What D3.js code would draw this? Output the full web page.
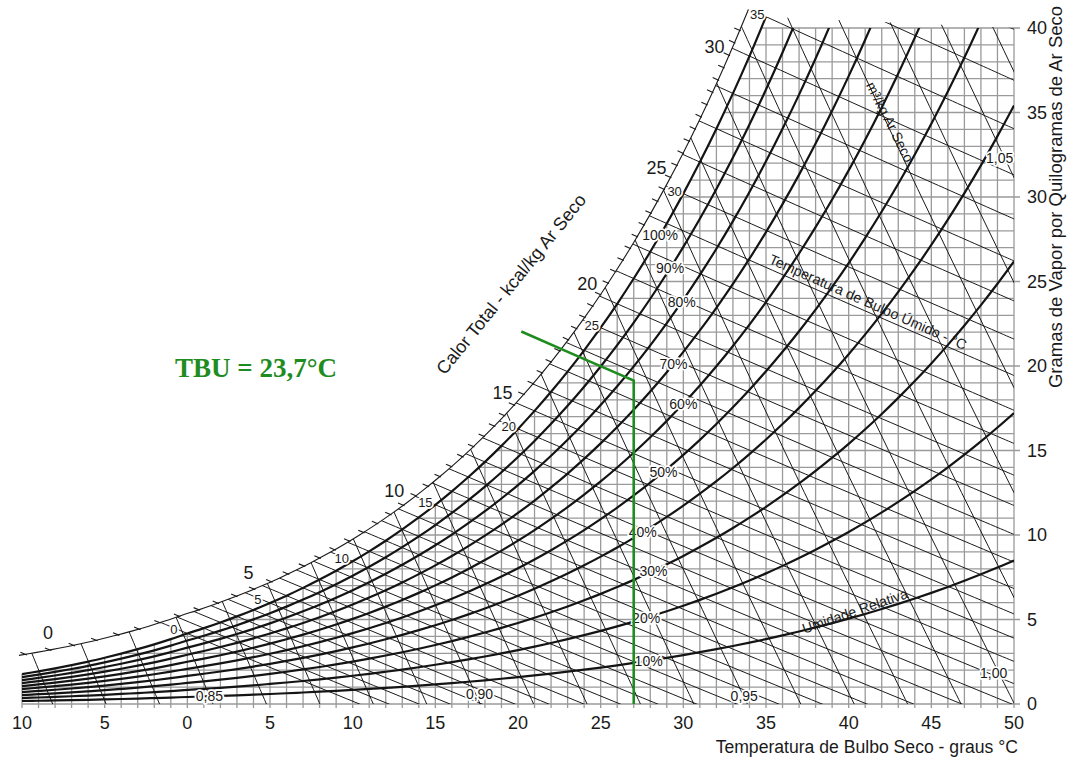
<!DOCTYPE html>
<html><head><meta charset="utf-8">
<script src="https://cdn.jsdelivr.net/npm/d3@7/dist/d3.min.js"></script>
<style>
html,body{margin:0;padding:0;background:#fff;}
svg{display:block;}
text{font-family:"Liberation Sans",Arial,sans-serif;fill:#1a1a1a;}
</style></head><body>
<svg id="chart" width="1071" height="757"></svg>
<script>
// ---------------- data ----------------
// saturation vapour pressure (kPa) by dry-bulb temperature (ice below 0 °C)
const satTemps = [-10,-9,-8,-7,-6,-5,-4,-3,-2,-1,0,1,2,3,4,5,6,7,8,9,10,11,12,13,14,15,16,17,18,19,20,21,22,23,24,25,26,27,28,29,30,31,32,33,34,35,36,37,38,39,40,41,42,43,44,45,46,47,48,49,50];
const satPressure = [0.2599,0.2842,0.3102,0.3381,0.3681,0.4017,0.4376,0.4760,0.5173,0.5626,0.6112,0.6571,0.7060,0.7581,0.8135,0.8725,0.9353,1.0020,1.0729,1.1481,1.2280,1.3128,1.4026,1.4979,1.5987,1.7055,1.8185,1.9380,2.0643,2.1978,2.3388,2.4877,2.6448,2.8104,2.9851,3.1692,3.3631,3.5673,3.7822,4.0083,4.2460,4.4959,4.7585,5.0343,5.3239,5.6278,5.9466,6.2810,6.6315,6.9987,7.3835,7.7863,8.2080,8.6492,9.1107,9.5932,10.0976,10.6246,11.1751,11.7500,12.3499];
const rhLevels = [0.1,0.2,0.3,0.4,0.5,0.6,0.7,0.8,0.9];
const rhLabels = ["10%","20%","30%","40%","50%","60%","70%","80%","90%","100%"];
const rhLabelTemps = [27.9,27.75,28.2,27.55,28.8,30.0,29.4,29.9,29.2,28.6];
const wetBulbTemps = [0,1,2,3,4,5,6,7,8,9,10,11,12,13,14,15,16,17,18,19,20,21,22,23,24,25,26,27,28,29,30,31,32,33,34,35,36,37];
const wetBulbLabelTemps = [0,5,10,15,20,25,30,35];
const volumeLevels = [0.82,0.83,0.84,0.85,0.86,0.87,0.88,0.89,0.90,0.91,0.92,0.93,0.94,0.95,0.96,0.97,0.98,0.99,1.00,1.01,1.02,1.03,1.04,1.05,1.06];
const volumeLabelLevels = [0.85,0.90,0.95,1.00,1.05];
const volumeLabels = ["0,85","0,90","0,95","1,00","1,05"];
const volumeLabelW = [0.5,0.6,0.5,1.85,32.3];
const enthalpyLabelValues = [0,5,10,15,20,25,30];
const xTickValues = [-10,-5,0,5,10,15,20,25,30,35,40,45,50];
const xTickLabels = ["10","5","0","5","10","15","20","25","30","35","40","45","50"];
const yTickValues = [0,5,10,15,20,25,30,35,40];
const tbuValue = 23.7, tbsValue = 27, tbuLineStartT = 20.2;
const baroKPa = 91.7, volumeBaroKPa = 92.77, seaLevelKPa = 101.325;
const enthalpyScaleShift = -0.65; // °C offset of the printed enthalpy scale

// ---------------- psychrometric helpers ----------------
function psAt(T){
  let i = Math.floor(T - satTemps[0]);
  i = Math.max(0, Math.min(satTemps.length - 2, i));
  const f = (T - satTemps[i]) / (satTemps[i+1] - satTemps[i]);
  return Math.exp(Math.log(satPressure[i])*(1-f) + Math.log(satPressure[i+1])*f);
}
const wRH = (T, phi, P=baroKPa) => 622*phi*psAt(T)/(P - phi*psAt(T));
const wSat = (T) => wRH(T, 1);
const wWB = (T, t) => ((2501 - 2.326*t)*wSat(t) - 1006*(T - t)) / (2501 + 1.86*T - 4.186*t);
const hSeaKcal = (t) => (1.006*t + wRH(t,1,seaLevelKPa)/1000*(2501 + 1.86*t)) / 4.1868;
const volT = (v, W) => v*volumeBaroKPa/(0.287055*(1 + 1.6078*W/1000)) - 273.15;
function solve(f, target, lo, hi){
  for (let k=0;k<60;k++){ const m=(lo+hi)/2; if (f(m) < target) lo=m; else hi=m; }
  return (lo+hi)/2;
}

// ---------------- scales ----------------
const x = d3.scaleLinear().domain([-10,50]).range([22,1014]);
const y = d3.scaleLinear().domain([0,40]).range([704,28]);
const svg = d3.select('#chart');
const lineC = d3.line().curve(d3.curveCatmullRom.alpha(0.5));
const lineL = d3.line();
const OFF = 19;

const satPx = t => [x(t), y(wSat(t))];
function normalAt(t){
  const a = satPx(t-0.2), b = satPx(t+0.2);
  const tx=b[0]-a[0], ty=b[1]-a[1], L=Math.hypot(tx,ty);
  return [ty/L, -tx/L];
}
function wbDir(t){
  const S = satPx(t), S2 = [x(t-1), y(wWB(t-1,t))];
  const dx=S2[0]-S[0], dy=S2[1]-S[1], L=Math.hypot(dx,dy);
  return [dx/L, dy/L];
}
function bandPoint(t, frac){
  const S = satPx(t), n = normalAt(t), u = wbDir(t);
  const d = OFF*frac/(u[0]*n[0]+u[1]*n[1]);
  return {p:[S[0]+u[0]*d, S[1]+u[1]*d], n, u};
}

const satCurveT = satTemps.filter(t => t <= 35);
const satPts = satCurveT.map(satPx);
const scalePts = satCurveT.map(t => { const S=satPx(t), n=normalAt(t); return [S[0]+OFF*n[0], S[1]+OFF*n[1]]; });
const T40 = solve(wSat, 40, 30, 36);
const gridPts = satTemps.filter(t => t < T40).map(satPx).concat([[x(T40), y(40)]]);

const defs = svg.append('defs');
defs.append('clipPath').attr('id','gridClip').append('path')
  .attr('d', lineC(gridPts) + `L${x(50)},${y(40)}L${x(50)},${y(0)}L${x(-10)},${y(0)}Z`);
const satTop = satPts[satPts.length-1];
defs.append('clipPath').attr('id','thinClip').append('path')
  .attr('d', lineC(scalePts) + `L${satTop[0]},${satTop[1]}L${x(50)},${y(40)}L${x(50)},${y(0)}L${x(-10)},${y(0)}Z`);

// ---------------- grid ----------------
const grid = svg.append('g').attr('stroke','#9a9a9a').attr('stroke-width',1.3);
satTemps.forEach(T => {
  const top = Math.min(wSat(T), 40);
  grid.append('line').attr('x1',x(T)).attr('x2',x(T)).attr('y1',y(0)+4).attr('y2',y(top));
});
d3.range(0,41).forEach(W => {
  const Tl = W <= wSat(-10) ? -10 : solve(wSat, W, -10, 36);
  grid.append('line').attr('x1',x(Tl)).attr('x2',x(50) + (W%5===0 ? 6 : 0)).attr('y1',y(W)).attr('y2',y(W));
});

// ---------------- thin lines: wet bulb & specific volume ----------------
const thin = svg.append('g').attr('clip-path','url(#thinClip)')
  .attr('fill','none').attr('stroke','#1a1a1a').attr('stroke-width',1);
wetBulbTemps.forEach(t => {
  const pts = [t-5, t, (t+50)/2, 50].map(T => [x(T), y(wWB(T,t))]);
  thin.append('path').attr('d', lineC(pts));
});
volumeLevels.forEach(v => {
  const pts = [-2, 0, 15, 30, 46].map(W => [x(volT(v,W)), y(W)]);
  thin.append('path').attr('d', lineC(pts));
});

// ---------------- relative humidity curves ----------------
const rhG = svg.append('g').attr('clip-path','url(#gridClip)')
  .attr('fill','none').attr('stroke','#141414').attr('stroke-width',2.2);
rhLevels.forEach(phi => {
  rhG.append('path').attr('d', lineC(satTemps.map(T => [x(T), y(wRH(T,phi))])));
});
svg.append('path').attr('d', lineC(satPts)).attr('fill','none').attr('stroke','#141414').attr('stroke-width',2.2);
svg.append('path').attr('d', lineC(scalePts)).attr('fill','none').attr('stroke','#1a1a1a').attr('stroke-width',1.1);

// ---------------- enthalpy scale ticks & labels ----------------
const tickG = svg.append('g').attr('stroke','#1a1a1a').attr('stroke-width',1.1);
d3.range(-1, 31.01, 0.5).forEach(h => {
  const t = solve(hSeaKcal, h, -12, 40) + enthalpyScaleShift;
  if (t > 35.05 || t < -10) return;
  const b = bandPoint(t, 1);
  if (b.p[0] < 24) return;
  tickG.append('line').attr('x1',b.p[0]-b.u[0]).attr('y1',b.p[1]-b.u[1])
    .attr('x2',b.p[0]+b.u[0]*6).attr('y2',b.p[1]+b.u[1]*6);
  if (enthalpyLabelValues.includes(h)) {
    svg.append('text').attr('x', b.p[0]+b.n[0]*17+1).attr('y', b.p[1]+b.n[1]*17-1)
      .attr('text-anchor','middle').attr('dominant-baseline','central')
      .attr('font-size',18).text(h);
  }
});

const halo = sel => sel.attr('stroke','#fff').attr('stroke-width',3.5).attr('stroke-linejoin','round').style('paint-order','stroke');

// wet bulb labels in the band
wetBulbLabelTemps.forEach(t => {
  const b = bandPoint(t, 0.5);
  svg.append('text').attr('x', b.p[0]).attr('y', b.p[1]+2)
    .attr('text-anchor','middle').attr('dominant-baseline','central')
    .attr('font-size',13).call(halo).text(t);
});

// RH labels
rhLabels.forEach((lab,i) => {
  const phi = (i+1)/10;
  const T = rhLabelTemps[i];
  svg.append('text').attr('x', x(T)).attr('y', y(wRH(T,phi)))
    .attr('text-anchor','middle').attr('dominant-baseline','central')
    .attr('font-size',14).call(halo).text(lab);
});

// volume labels
const volLabelDx = [0, 4, 1, -5, -5];
volumeLabelLevels.forEach((v,i) => {
  const W = volumeLabelW[i];
  svg.append('text').attr('x', x(volT(v,W)) + volLabelDx[i]).attr('y', y(W))
    .attr('text-anchor','middle').attr('dominant-baseline','central')
    .attr('font-size',14).call(halo).text(volumeLabels[i]);
});

// line-family annotations
svg.append('text').attr('transform','translate(855,611) rotate(-19)')
  .attr('text-anchor','middle').attr('font-size',14).attr('dy','0.35em').text('Umidade Relativa');
svg.append('text').attr('transform','translate(868,302) rotate(24)')
  .attr('text-anchor','middle').attr('font-size',14.3).attr('dy','0.35em').text('Temperatura de Bulbo Úmido - °C');
svg.append('text').attr('transform','translate(890,122) rotate(63)')
  .attr('text-anchor','middle').attr('font-size',14).attr('dy','0.35em').text('m³/kg Ar Seco');
svg.append('text').attr('transform','translate(511,284) rotate(-51)')
  .attr('text-anchor','middle').attr('font-size',18).attr('dy','0.35em').text('Calor Total - kcal/kg Ar Seco');

// ---------------- axes labels ----------------
xTickValues.forEach((v,i) => {
  svg.append('text').attr('x', x(v)).attr('y', 729).attr('text-anchor','middle')
    .attr('font-size',18).text(xTickLabels[i]);
});
yTickValues.forEach(v => {
  svg.append('text').attr('x', 1027).attr('y', y(v)).attr('dy','0.36em')
    .attr('font-size',18).text(v);
});
svg.append('text').attr('x',1018).attr('y',753).attr('text-anchor','end')
  .attr('font-size',17.6).text('Temperatura de Bulbo Seco - graus °C');
svg.append('text').attr('transform','translate(1062,197) rotate(-90)').attr('text-anchor','middle')
  .attr('font-size',18.5).text('Gramas de Vapor por Quilogramas de Ar Seco');

// ---------------- TBU construction ----------------
const green = '#1f8c1f';
const tbuPts = [tbuLineStartT, tbuValue, tbsValue].map(T => [x(T), y(wWB(T, tbuValue))]);
tbuPts.push([x(tbsValue), y(0)]);
svg.append('path').attr('d', lineL(tbuPts)).attr('fill','none').attr('stroke',green).attr('stroke-width',2.6);
svg.append('text').attr('x',175).attr('y',377).style('font-family','"Liberation Serif","Times New Roman",serif')
  .attr('font-weight','bold').attr('font-size',27).style('fill',green).text('TBU = 23,7°C');
</script>
</body></html>
